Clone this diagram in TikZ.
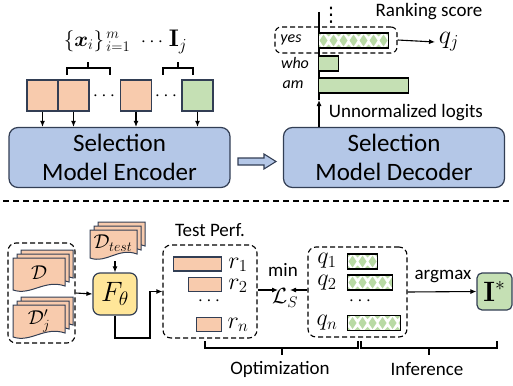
\RequirePackage{fix-cm}
\documentclass[tikz,border=0pt]{standalone}
\usepackage[no-math]{fontspec}
\setmainfont{Carlito}
\newfontfamily\glyphfont{DejaVu Sans}
\usepackage{bm}
\usetikzlibrary{arrows.meta}

\definecolor{edge}{RGB}{50,62,84}
\definecolor{peach}{RGB}{248,203,173}
\definecolor{leaf}{RGB}{197,224,180}
\definecolor{sky}{RGB}{180,199,231}
\definecolor{butter}{RGB}{255,230,153}
\definecolor{patgreen}{RGB}{184,218,164}

\tikzset{
  model/.style={draw=edge, fill=sky, rounded corners=9pt, line width=1.2pt,
    minimum width=221pt, minimum height=60pt, align=center,
    font=\fontsize{25}{29}\selectfont},
  token/.style={draw=edge, line width=1.1pt, minimum width=31pt,
    minimum height=31pt, inner sep=0pt},
  bar/.style={draw=black, line width=1.1pt, inner sep=0pt, minimum height=15pt,
    anchor=west},
  dotbar/.style={bar, fill=white, path picture={
    \foreach \k in {0,...,10}{
      \fill[patgreen] ([xshift=\k*10pt+5pt]path picture bounding box.west)
        +(-4pt,0pt) -- +(0pt,6pt) -- +(4pt,0pt) -- +(0pt,-6pt) -- cycle;
      \fill[patgreen] ([xshift=\k*10pt]path picture bounding box.north west)
        +(-3.5pt,0pt) -- +(0pt,3.5pt) -- +(3.5pt,0pt) -- +(0pt,-3.5pt) -- cycle;
      \fill[patgreen] ([xshift=\k*10pt]path picture bounding box.south west)
        +(-3.5pt,0pt) -- +(0pt,3.5pt) -- +(3.5pt,0pt) -- +(0pt,-3.5pt) -- cycle;
    }}},
  dashbox/.style={draw, dash pattern=on 5pt off 3pt, line width=1.1pt,
    rounded corners=8pt, inner sep=0pt},
  sheet/.style={draw=edge, fill=peach, line width=1pt},
  word/.style={font=\fontsize{16}{19}\selectfont\itshape},
  sym/.style={font=\fontsize{24}{28}\selectfont},
}

% one sheet: x, y (top left), width, height
\newcommand{\docsheet}[4]{%
  \draw[sheet] (#1,#2) -- (#1+#3,#2) -- (#1+#3,#2+#4-4)
    .. controls (#1+0.6*#3,#2+#4-11) and (#1+0.35*#3,#2+#4+6) .. (#1,#2+#4) -- cycle;}
% stack of three sheets: x, y, width, height, offset
\newcommand{\docstack}[5]{%
  \foreach \o in {2,1,0}{\docsheet{#1+\o*#5}{#2-\o*#5}{#3}{#4}}}

\begin{document}
\begin{tikzpicture}[x=1pt, y=-1pt, >={Latex[length=6pt,width=5pt]}, line width=1.1pt,
    font=\fontsize{19}{22}\selectfont]
\useasboundingbox (0,0) rectangle (513,385);

% Encoder side
\node[model] (enc) at (119.5,157.5) {Selection\\Model Encoder};
\node[token, fill=peach] (t1) at (42.5,95.5) {};
\node[token, fill=peach] (t2) at (73.5,95.5) {};
\node (dots1) at (104,96) {$\cdots$};
\node[token, fill=peach] (t3) at (136,95.5) {};
\node (dots2) at (166,96) {$\cdots$};
\node[token, fill=leaf] (t4) at (197.5,95.5) {};
\foreach \t in {t1,t2,t3,t4}
  \draw[->] (\t.south) -- (\t.south |- enc.north);
\node[font=\fontsize{21}{25}\selectfont] (xset) at (97,41) {$\{\bm{x}_i\}_{\,i=1}^{\,m}$};
\node (dots3) at (152,42) {$\cdots$};
\node[sym] (ij) at (178,42) {$\mathbf{I}_j$};
\draw (67,75) -- (67,68) -- (110,68) -- (110,75) (88,68) -- (88,62);
\draw (163,75) -- (163,68) -- (193,68) -- (193,75) (178,68) -- (178,62);

% Block arrow
\draw[draw=edge, fill=sky] (238,158) -- (264,158) -- (264,154) -- (276,161.5)
  -- (264,169) -- (264,165) -- (238,165) -- cycle;

% Decoder side
\node[model] (dec) at (394,157.5) {Selection\\Model Decoder};
\coordinate (axtop) at (319,12);
\coordinate (axbot) at (319,100);
\draw (axtop) -- (axbot);
\node[inner sep=0pt, font=\fontsize{20}{22}\glyphfont] (vdots) at (331,15) {⋮};
\node[dotbar, minimum width=70pt] (yesbar) at (318,40.5) {};
\node[bar, fill=leaf, minimum width=20pt] (whobar) at (318,63.5) {};
\node[bar, fill=leaf, minimum width=90pt] (ambar) at (318,85.5) {};
\node[word] (yes) at (291,40) {yes};
\node[word] (who) at (295,63) {who};
\node[word] (am) at (293,85) {am};
\node[dashbox, rounded corners=6pt, minimum width=122pt, minimum height=26pt] (yesbox) at (336,40) {};
\node[font=\fontsize{26}{30}\selectfont] (qj) at (449,42) {$q_j$};
\draw[->] (yesbox.east) -- (qj.west);
\node (rank) at (429,12) {Ranking score};
\draw[->] (axbot |- dec.north) -- (axbot);
\node[anchor=west] (logit) at (325,113) {Unnormalized logits};

% Separator
\draw[dash pattern=on 6pt off 4pt] (3,201) -- (510,201);

% Data and model
\node[dashbox, minimum width=67pt, minimum height=100pt] (pool) at (41.5,293) {};
\docstack{13}{258}{52}{32}{4}
\node[font=\fontsize{20}{24}\selectfont] (dall) at (39,273) {$\mathcal{D}$};
\docstack{13}{305}{52}{32}{4}
\node[font=\fontsize{20}{24}\selectfont] (dsub) at (39,321) {$\mathcal{D}'_j$};
\docstack{90}{230}{47}{28}{4}
\node[font=\fontsize{20}{24}\selectfont] (dtest) at (113,243) {$\mathcal{D}_{test}$};
\coordinate (dtbot) at (115,261);
\node[draw=edge, fill=butter, rounded corners=7pt, line width=1.2pt,
  minimum width=44pt, minimum height=42pt, font=\fontsize{28}{32}\selectfont] (F) at (115,294) {$F_\theta$};
\draw[->] (dtbot) -- (F.north);
\draw[->] (pool.east) -- (F.west);

% Test performance
\node[dashbox, minimum width=94pt, minimum height=93pt] (perf) at (210,291.5) {};
\node (perflab) at (210,230) {Test Perf.};
\node[bar, draw=edge, fill=peach, minimum width=48pt, minimum height=14pt] (r1bar) at (173,264) {};
\node[bar, draw=edge, fill=peach, minimum width=33pt, minimum height=14pt] (r2bar) at (188,284.5) {};
\node[bar, draw=edge, fill=peach, minimum width=25pt, minimum height=14pt] (rnbar) at (196,324.5) {};
\node[sym] (r1) at (238,265) {$r_1$};
\node[sym] (r2) at (238,286) {$r_2$};
\node[sym] (rn) at (238,325) {$r_n$};
\node (dots4) at (209,301) {$\cdots$};
\draw[->] (F.south) |- (150,338) |- (perf.west);

% Loss
\node (minlab) at (283,270) {min};
\node[font=\fontsize{22}{26}\selectfont] (loss) at (285,298) {$\mathcal{L}_S$};
\coordinate (lossl) at (278,290);
\coordinate (lossr) at (290,290);

% Ranking scores
\node[dashbox, minimum width=99pt, minimum height=90pt] (cand) at (357.5,292) {};
\node[sym] (q1) at (327,261) {$q_1$};
\node[sym] (q2) at (327,283) {$q_2$};
\node[sym] (qn) at (327,323) {$q_n$};
\node[dotbar, minimum width=30pt] (q1bar) at (347,261.5) {};
\node[dotbar, minimum width=45pt] (q2bar) at (347,282.5) {};
\node[dotbar, minimum width=53pt] (qnbar) at (347,323) {};
\node (dots5) at (360,301) {$\cdots$};
\draw[->] (perf.east |- lossl) -- (lossl);
\draw[->] (cand.west |- lossr) -- (lossr);

% Best
\node[draw=edge, fill=leaf, rounded corners=5pt, line width=1.2pt,
  minimum width=35pt, minimum height=37pt, font=\fontsize{28}{32}\selectfont] (best) at (494.5,291.5) {$\mathbf{I}^*$};
\node (amax) at (443,277) {argmax};
\draw[->] (cand.east) -- (best.west);

% Brackets
\draw (205,341) -- (205,348) -- (358,348) -- (358,341) (282,348) -- (282,355);
\draw (361,341) -- (361,348) -- (497,348) -- (497,341) (429,348) -- (429,355);
\node (opt) at (280,369) {Optimization};
\node (inf) at (427,369) {Inference};
\end{tikzpicture}
\end{document}
